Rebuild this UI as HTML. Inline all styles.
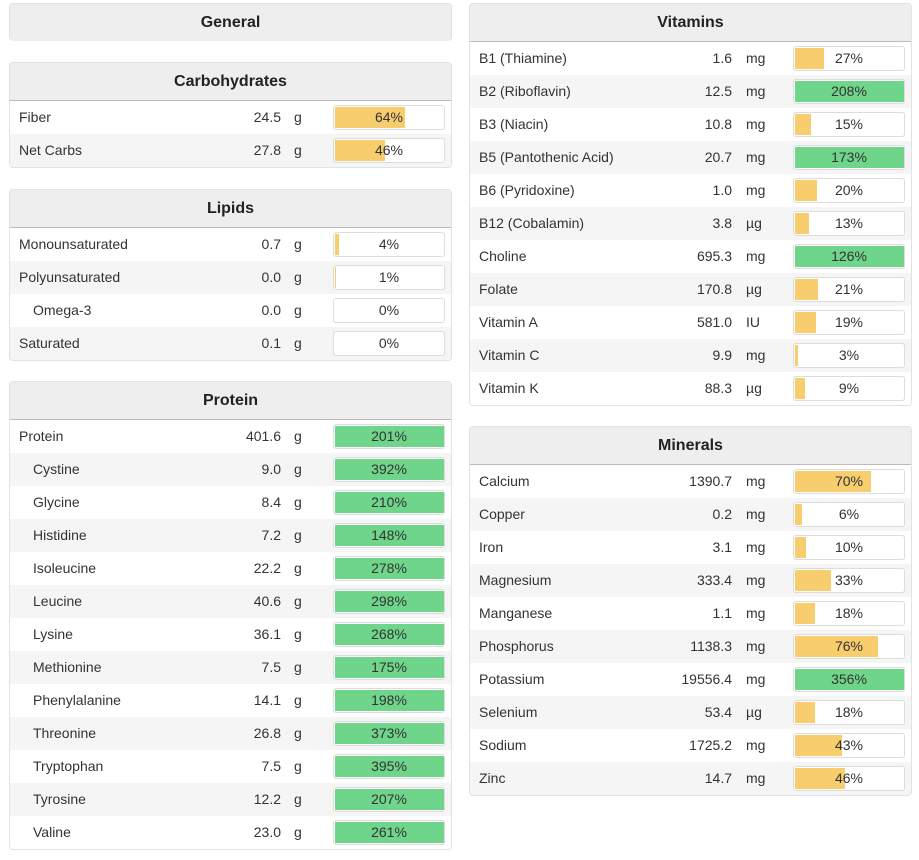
<!DOCTYPE html>
<html><head><meta charset="utf-8">
<style>
body{margin:0;width:919px;height:860px;background:#fff;font-family:"Liberation Sans",sans-serif;color:#333;position:relative;overflow:hidden}
.panel{position:absolute;border:1px solid #e2e2e2;border-radius:4px;box-sizing:border-box;background:#fff;overflow:hidden}
.hdr{height:37px;line-height:37px;background:#eee;border-bottom:1px solid #bbb;text-align:center;font-weight:bold;font-size:16px;color:#222}
.row{position:relative;height:33px;font-size:14px;background:#fff}
.row:nth-child(even){background:#f5f5f5}
.row span{position:absolute;top:0;line-height:33px}
.lbl{left:9px}
.val{text-align:right;width:80px}
.bar{position:absolute;top:4px;height:25px;width:112px;border:1px solid #ddd;border-radius:3px;box-sizing:border-box;background:#fff;overflow:hidden}
.fill{position:absolute;left:1px;top:1px;bottom:1px}
.pct{position:absolute;left:0;right:0;top:0;line-height:23px;text-align:center;font-size:14px;color:#333}
</style></head><body>
<div class="panel" style="left:9px;top:3px;width:443px;height:38px;border-bottom:none"><div class="hdr">General</div></div>
<div id="root"></div>
<script>
const carbLabels=["Fiber","Net Carbs"];
const carbValues=["24.5","27.8"];
const carbUnits=["g","g"];
const carbPct=[64,46];
const lipidLabels=["Monounsaturated","Polyunsaturated","Omega-3","Saturated"];
const lipidValues=["0.7","0.0","0.0","0.1"];
const lipidUnits=["g","g","g","g"];
const lipidPct=[4,1,0,0];
const lipidIndent=[0,0,1,0];
const protLabels=["Protein","Cystine","Glycine","Histidine","Isoleucine","Leucine","Lysine","Methionine","Phenylalanine","Threonine","Tryptophan","Tyrosine","Valine"];
const protValues=["401.6","9.0","8.4","7.2","22.2","40.6","36.1","7.5","14.1","26.8","7.5","12.2","23.0"];
const protPct=[201,392,210,148,278,298,268,175,198,373,395,207,261];
const protIndent=[0,1,1,1,1,1,1,1,1,1,1,1,1];
const vitLabels=["B1 (Thiamine)","B2 (Riboflavin)","B3 (Niacin)","B5 (Pantothenic Acid)","B6 (Pyridoxine)","B12 (Cobalamin)","Choline","Folate","Vitamin A","Vitamin C","Vitamin K"];
const vitValues=["1.6","12.5","10.8","20.7","1.0","3.8","695.3","170.8","581.0","9.9","88.3"];
const vitUnits=["mg","mg","mg","mg","mg","µg","mg","µg","IU","mg","µg"];
const vitPct=[27,208,15,173,20,13,126,21,19,3,9];
const minLabels=["Calcium","Copper","Iron","Magnesium","Manganese","Phosphorus","Potassium","Selenium","Sodium","Zinc"];
const minValues=["1390.7","0.2","3.1","333.4","1.1","1138.3","19556.4","53.4","1725.2","14.7"];
const minUnits=["mg","mg","mg","mg","mg","mg","mg","µg","mg","mg"];
const minPct=[70,6,10,33,18,76,356,18,43,46];

const root=document.getElementById('root');
function panel(name,title,left,top,labels,values,units,pcts,indent,valRight,unitX){
  const p=document.createElement('div');p.className='panel';
  
  
  p.style.left=left+'px';p.style.top=top+'px';p.style.width='443px';
  p.style.height=(38+33*labels.length+2)+'px';
  const h=document.createElement('div');h.className='hdr';h.textContent=title;
  
  
  p.appendChild(h);
  const body=document.createElement('div');p.appendChild(body);
  labels.forEach((l,i)=>{
    const r=document.createElement('div');r.className='row';
    
    
    const sub=indent&&indent[i];
    r.innerHTML='<span class="lbl" style="left:'+(sub?23:9)+'px">'+l+'</span>'+
      '<span class="val" style="left:'+(valRight-80)+'px">'+values[i]+'</span>'+
      '<span style="left:'+unitX+'px">'+units[i]+'</span>';
    const b=document.createElement('div');b.className='bar';b.style.left='323px';
    
    
    const f=document.createElement('div');f.className='fill';
    
    
    f.style.width=(Math.min(pcts[i],100)/100*109)+'px';
    f.style.background=pcts[i]>=100?'#6fd58a':'#f7cd6e';
    const t=document.createElement('div');t.className='pct';t.textContent=pcts[i]+'%';
    
    
    b.appendChild(f);b.appendChild(t);r.appendChild(b);
    body.appendChild(r);
  });
  root.appendChild(p);
}
panel('carbohydrates','Carbohydrates',9,62,carbLabels,carbValues,carbUnits,carbPct,null,271,284);
panel('lipids','Lipids',9,189,lipidLabels,lipidValues,lipidUnits,lipidPct,lipidIndent,271,284);
panel('protein','Protein',9,381,protLabels,protValues,protLabels.map(()=>'g'),protPct,protIndent,271,284);
panel('vitamins','Vitamins',469,3,vitLabels,vitValues,vitUnits,vitPct,null,262,276);
panel('minerals','Minerals',469,426,minLabels,minValues,minUnits,minPct,null,262,276);
</script>
</body></html>
